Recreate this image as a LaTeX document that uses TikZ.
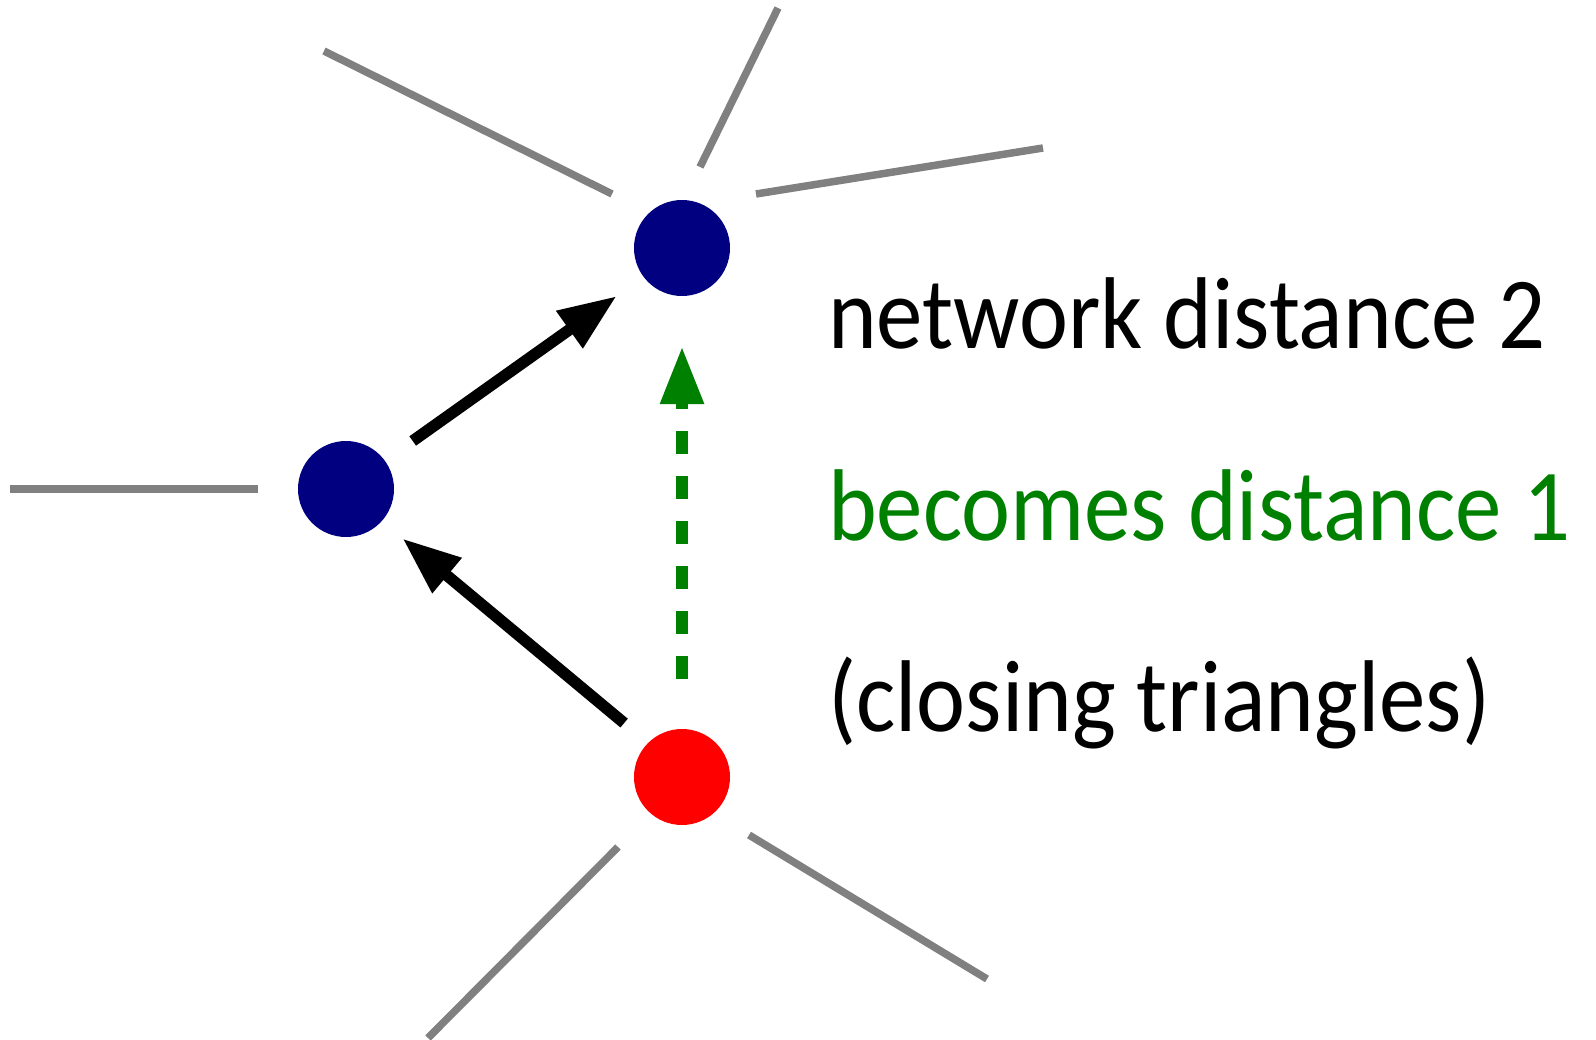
\documentclass[tikz,border=0pt]{standalone}
\usepackage{fontspec}
\setmainfont[FakeStretch=0.91]{Carlito}
\usetikzlibrary{arrows.meta}
\definecolor{vnavy}{RGB}{0,0,128}
\definecolor{vred}{RGB}{255,0,0}
\definecolor{vgreen}{RGB}{0,128,0}
\definecolor{vgray}{RGB}{128,128,128}
\begin{document}
\begin{tikzpicture}[x=1pt,y=-1pt,
  vertex/.style={circle,minimum size=96pt,inner sep=0pt,draw=none},
  stub/.style={draw=vgray,line width=7.5pt},
  tie/.style={draw=black,line width=11.5pt,-{Triangle[length=58pt,width=43pt]}},
  shortcut/.style={draw=vgreen,line width=12pt,dash pattern=on 23pt off 22pt,
    -{Triangle[length=58pt,width=41pt]},shorten <=50pt,shorten >=50pt},
  label/.style={anchor=base west,inner sep=0pt,font=\fontsize{102}{120}\selectfont}]
\useasboundingbox (0,0) rectangle (1596,1040);

% vertices
\node[vertex,fill=vnavy] (top) at (682,248) {};
\node[vertex,fill=vnavy] (mid) at (346,489) {};
\node[vertex,fill=vred]  (src) at (682,777) {};

% loose edges of the wider network
\coordinate (a1) at (258,489);  \coordinate (e1) at (10,489);
\coordinate (a2) at (612,194);  \coordinate (e2) at (324,51);
\coordinate (a3) at (700,167);  \coordinate (e3) at (778,8);
\coordinate (a4) at (756,194);  \coordinate (e4) at (1043,148);
\coordinate (a5) at (618,847);  \coordinate (e5) at (428,1038);
\coordinate (a6) at (749,835);  \coordinate (e6) at (987,979);
\foreach \i in {1,...,6} {\draw[stub] (a\i) -- (e\i);}

% two-step path and the new direct tie
\draw[tie,shorten <=34pt,shorten >=33pt] (mid.36) -- (top.217);
\draw[tie,shorten <=31pt,shorten >=27pt] (src.135) -- (mid.-42);
\draw[shortcut] (src) -- (top);

% captions
\node[label] (t1) at (828,349) {network distance 2};
\node[label,text=vgreen] (t2) at (828,540) {becomes distance 1};
\node[label] (t3) at (828,731) {(closing triangles)};
\end{tikzpicture}
\end{document}
